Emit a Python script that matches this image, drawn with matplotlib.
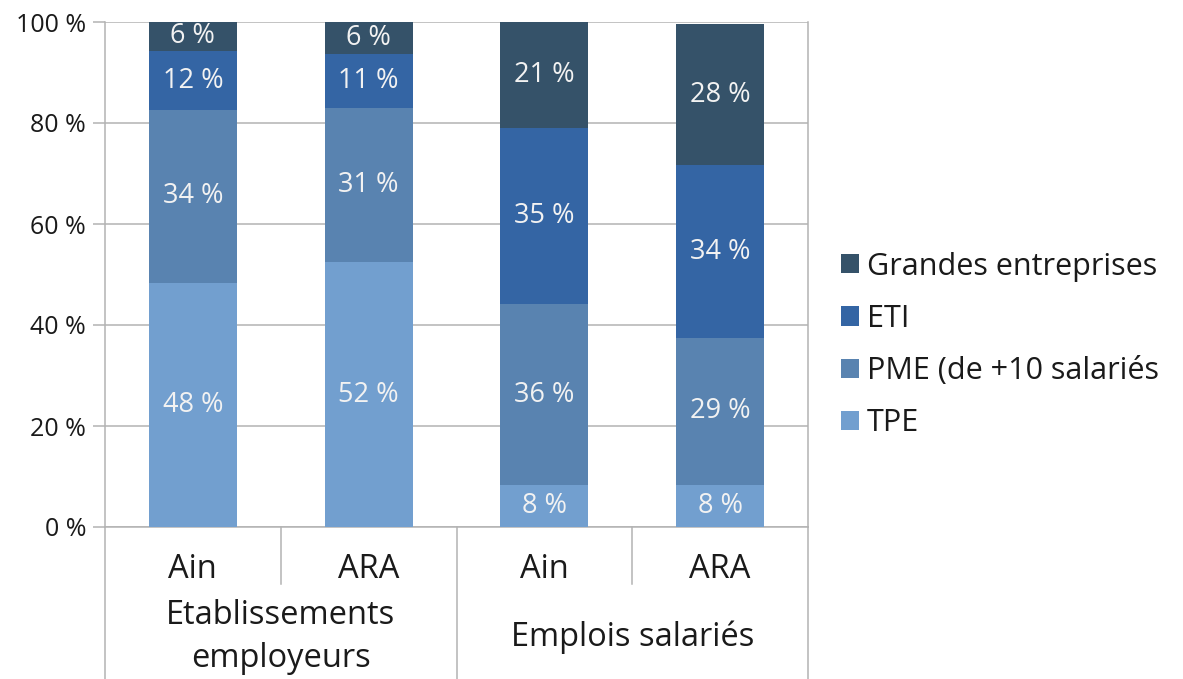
import matplotlib
matplotlib.use('Agg')
import matplotlib.pyplot as plt
from matplotlib.lines import Line2D
from matplotlib.transforms import blended_transform_factory

plt.rcParams['font.family'] = ['Open Sans', 'DejaVu Sans']

# sous-catégories et groupes
bars = ['Ain', 'ARA', 'Ain', 'ARA']
groups = ['Etablissements\nemployeurs', 'Emplois salariés']

# parts en %
tpe = [48.4, 52.4, 8.3, 8.4]
pme = [34.1, 30.6, 35.8, 29.1]
eti = [11.8, 10.6, 34.9, 34.1]
grandes = [5.7, 6.4, 21.0, 28.0]

series = [('TPE', tpe, '#729fcf'),
          ('PME (de +10 salariés', pme, '#5983b0'),
          ('ETI', eti, '#3465a4'),
          ('Grandes entreprises', grandes, '#355269')]

yticks = [0, 20, 40, 60, 80, 100]
grid_color = '#b3b3b3'

fig = plt.figure(figsize=(11.83, 6.79), dpi=100)
ax = fig.add_axes([105 / 1183, 1 - 527 / 679, (808 - 105) / 1183, (527 - 22) / 679])

x = list(range(len(bars)))
bottom = [0.0] * len(bars)
handles = []
for name, vals, color in series:
    rects = ax.bar(x, vals, width=0.5, bottom=bottom, color=color, label=name, zorder=3)
    handles.append(rects)
    for xi, v, b in zip(x, vals, bottom):
        ax.text(xi, b + v / 2, f'{v:.0f} %', ha='center', va='center',
                color='#f2f2f2', fontsize=19.5, zorder=4)
    bottom = [b + v for b, v in zip(bottom, vals)]

ax.set_xlim(-0.5, 3.5)
ax.set_ylim(0, 100)
ax.set_yticks(yticks)
ax.set_yticklabels([f'{t} %' for t in yticks], fontsize=18, color='#1a1a1a')
ax.set_xticks([])
ax.tick_params(axis='y', length=8.5, width=1.1, color=grid_color, pad=5)
ax.yaxis.grid(True, color=grid_color, linewidth=1.1, zorder=0)
for side in ['left', 'right', 'bottom']:
    ax.spines[side].set_color(grid_color)
    ax.spines[side].set_linewidth(1.1)
ax.spines['top'].set_visible(False)

# axe des catégories à deux niveaux
trans = blended_transform_factory(ax.transData, fig.transFigure)
for xs in [-0.5, 1.5, 3.5]:
    fig.add_artist(Line2D([xs, xs], [0, 1 - 527 / 679], transform=trans,
                          color=grid_color, linewidth=1.1))
for xs in [0.5, 2.5]:
    fig.add_artist(Line2D([xs, xs], [1 - 584 / 679, 1 - 527 / 679], transform=trans,
                          color=grid_color, linewidth=1.1))

for xi, lab in zip(x, bars):
    ax.text(xi, 1 - 569 / 679, lab, transform=trans, ha='center', va='center',
            fontsize=23.5, color='#1a1a1a')
for gi, lab in enumerate(groups):
    ax.text(gi * 2 + 0.5, 1 - 637 / 679, lab, transform=trans, ha='center', va='center',
            fontsize=23.5, color='#1a1a1a', linespacing=1.4)

leg = fig.legend(handles[::-1], [s[0] for s in series][::-1], loc='center left',
                 bbox_to_anchor=(813 / 1183, 1 - 345 / 679), frameon=False,
                 fontsize=22, handlelength=0.6, handleheight=0.6, handletextpad=0.26,
                 labelspacing=0.73)
for t in leg.get_texts():
    t.set_color('#1a1a1a')

fig.savefig('out.png', dpi=100)
